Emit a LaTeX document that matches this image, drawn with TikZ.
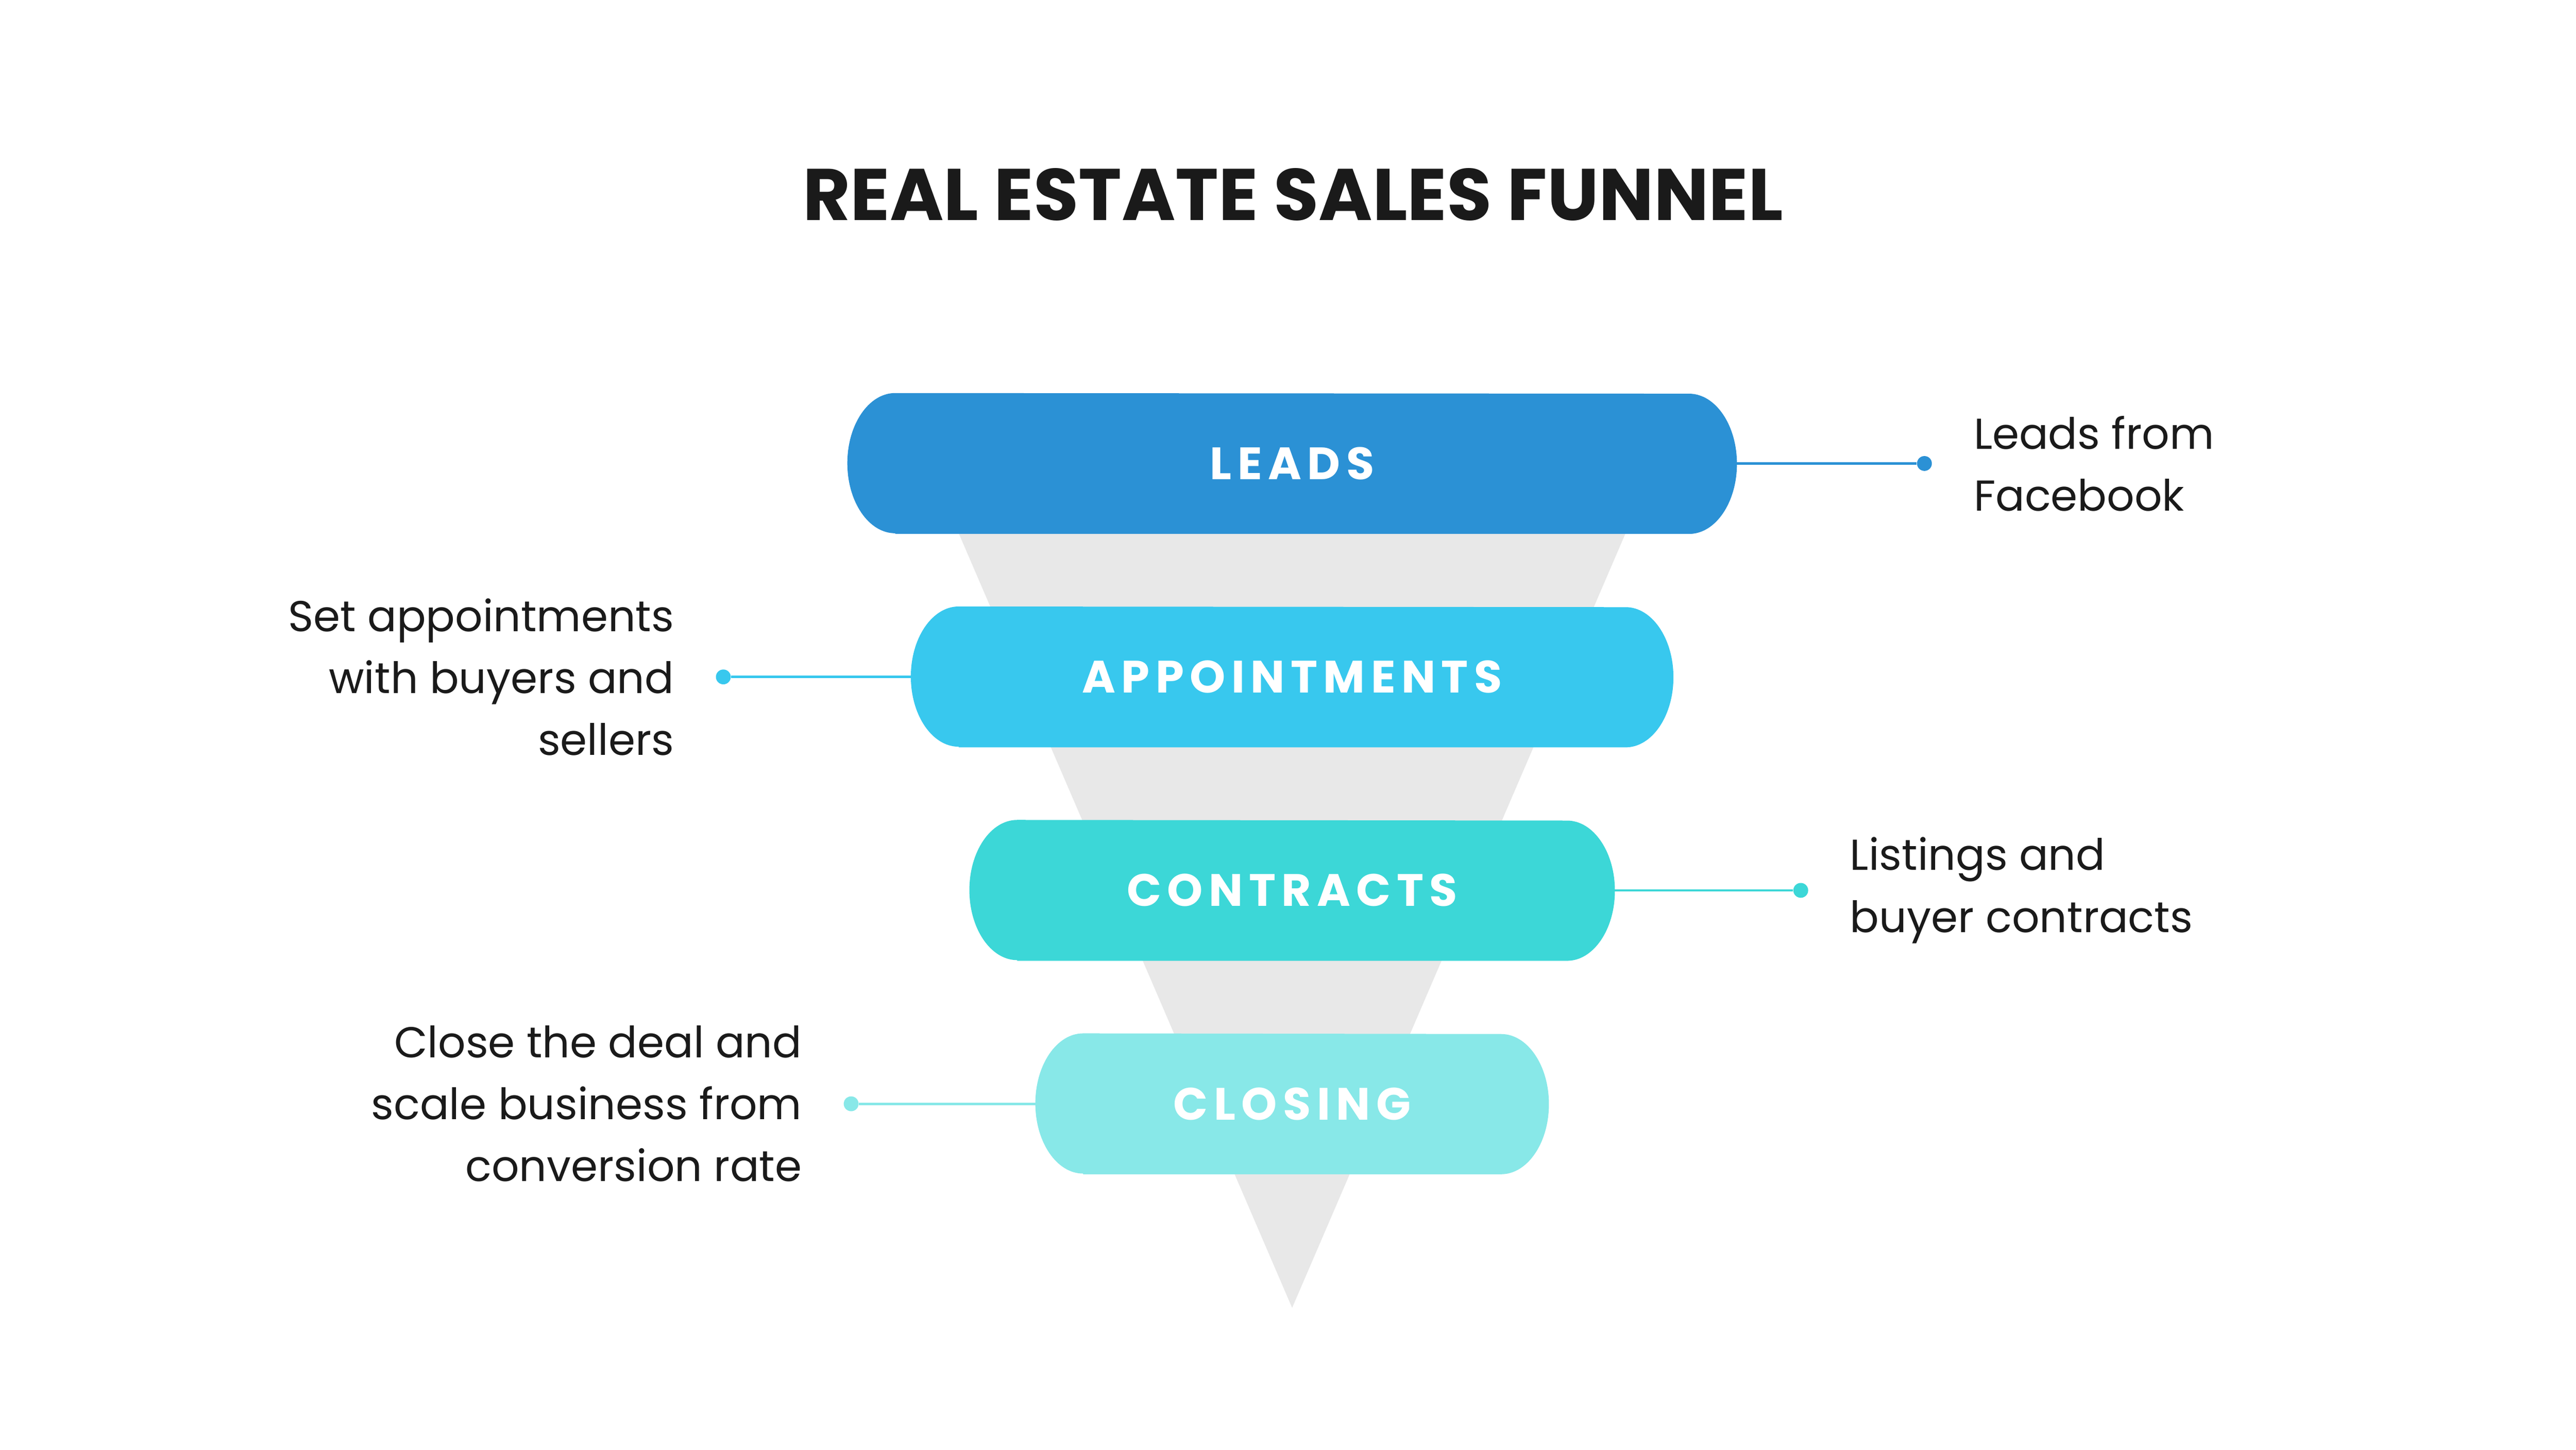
\documentclass[tikz,border=0pt]{standalone}
\usepackage{fontspec}
\setmainfont{Poppins}
\newfontfamily\pillfont{Poppins}[LetterSpace=13]
\usetikzlibrary{positioning}
\usetikzlibrary{backgrounds}
\definecolor{leadsblue}{HTML}{2B91D5}
\definecolor{apptblue}{HTML}{38C8EE}
\definecolor{contrteal}{HTML}{3CD7D7}
\definecolor{closeteal}{HTML}{88E8E8}
\definecolor{funnelgray}{HTML}{E8E8E8}
\definecolor{inkblack}{HTML}{1A1A1A}
\tikzset{
    x=1pt, y=1pt,
    node distance=44pt,
    pill/.style={
        minimum height=85pt,
        inner sep=0pt,
        text=white,
        font=\pillfont\bfseries\fontsize{27.5}{30}\selectfont
    },
    dot/.style={
        circle,
        inner sep=0pt,
        minimum size=9pt
    },
    note/.style={
        inner sep=0pt,
        text=inkblack,
        font=\fontsize{26.2}{37.5}\selectfont
    },
    link/.style={
        line width=1.5pt
    }
}

\begin{document}
\begin{tikzpicture}
    \useasboundingbox (0,0) rectangle (1562,879);
    \node[text=inkblack, font=\bfseries\fontsize{44.3}{50}\selectfont] (title) at (784,761) {REAL ESTATE SALES FUNNEL};

    % funnel stages
    \node[pill, minimum width=539pt] (leads) at (783.5,598) {LEADS};
    \node[pill, minimum width=462pt, below=of leads] (appts) {APPOINTMENTS};
    \node[pill, minimum width=391pt, below=of appts] (contracts) {CONTRACTS};
    \node[pill, minimum width=311pt, below=of contracts] (closing) {CLOSING};
    \coordinate[below=81pt of closing] (tip);

    % side notes
    \node[dot, fill=leadsblue, right=109pt of leads] (leadsdot) {};
    \node[note, align=left, right=25pt of leadsdot] (leadsnote) {Leads from\\Facebook};
    \node[dot, fill=apptblue, left=109pt of appts] (apptsdot) {};
    \node[note, align=right, left=25pt of apptsdot] (apptsnote) {Set appointments\\with buyers and\\sellers};
    \node[dot, fill=contrteal, right=108pt of contracts] (contractsdot) {};
    \node[note, align=left, right=25pt of contractsdot] (contractsnote) {Listings and\\buyer contracts};
    \node[dot, fill=closeteal, left=107pt of closing] (closingdot) {};
    \node[note, align=right, left=25pt of closingdot] (closingnote) {Close the deal and\\scale business from\\conversion rate};

    \draw[link, leadsblue] (leads) -- (leadsdot);
    \draw[link, apptblue] (appts) -- (apptsdot);
    \draw[link, contrteal] (contracts) -- (contractsdot);
    \draw[link, closeteal] (closing) -- (closingdot);

    \begin{scope}[on background layer]
        \fill[white] (0,0) rectangle (1562,879);
        \fill[funnelgray] ([xshift=-202pt]leads.south) -- ([xshift=202pt]leads.south) -- (tip) -- cycle;
        \foreach \n/\c in {leads/leadsblue, appts/apptblue, contracts/contrteal, closing/closeteal}
            \fill[\c] ([xshift=29pt]\n.south west) -- ([xshift=-29pt]\n.south east)
                arc[start angle=-90, end angle=90, x radius=29pt, y radius=42.5pt]
                -- ([xshift=29pt]\n.north west)
                arc[start angle=90, end angle=270, x radius=29pt, y radius=42.5pt] -- cycle;
    \end{scope}
\end{tikzpicture}
\end{document}
